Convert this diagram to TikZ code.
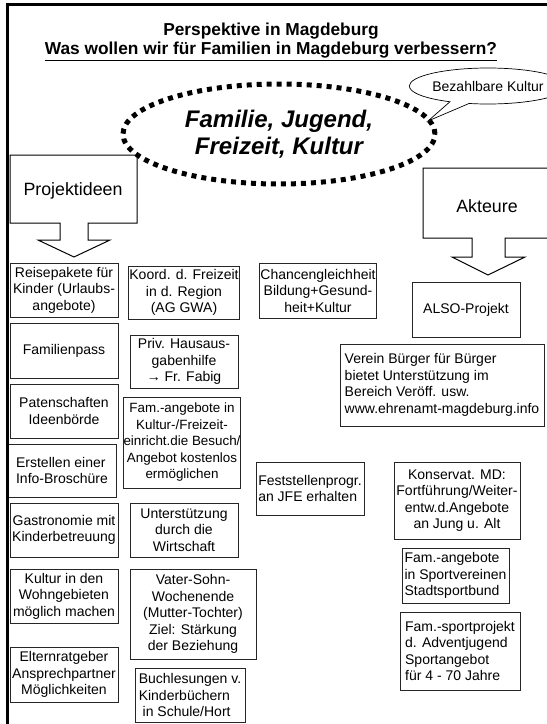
\documentclass[tikz,border=0pt]{standalone}
\usepackage{fontspec}
\setmainfont{Liberation Sans}
\usetikzlibrary{shapes.geometric,shapes.callouts}

\begin{document}
\begin{tikzpicture}[
  x=1pt, y=-1pt,
  font=\fontsize{14}{16.5}\selectfont,
  idee/.style ={rectangle, draw=black!85, line width=0.9pt, align=center, inner sep=0.5pt},
  links/.style={idee, align=left},
  pfeil/.style={draw=black, line width=1pt, fill=white, line join=miter},
]
\useasboundingbox (0,0) rectangle (547,724);
\clip (0,0) rectangle (547,724);
% title
\node[align=center, font=\fontsize{17.3}{19}\selectfont\bfseries] (titel) at (271,42)
  {Perspektive in Magdeburg\\\underline{Was wollen wir für Familien in Magdeburg verbessern?}};
% block arrows
\draw[pfeil] (10,155) -- (137,155) -- (137,223) -- (88,223) -- (88,240) -- (110,240) -- (74,257)
  -- (38,240) -- (60,240) -- (60,223) -- (10,223) -- cycle;
\node[font=\fontsize{17.8}{20}\selectfont] (ideen) at (73,191) {Projektideen};
\draw[pfeil] (423,168) -- (560,168) -- (560,238) -- (505,238) -- (505,257) -- (525,257) -- (488,275)
  -- (452,257) -- (472,257) -- (472,238) -- (423,238) -- cycle;
\node[font=\fontsize{17.8}{20}\selectfont] (akteure) at (487,206) {Akteure};
% theme
\node[ellipse, draw, line width=5pt, dash pattern=on 5pt off 5pt, minimum width=312, minimum height=100, inner sep=0,
      align=center, font=\fontsize{24}{27}\selectfont\bfseries\itshape] (thema) at (279,134)
  {Familie, Jugend,\\Freizeit, Kultur};
\node[ellipse callout, draw, line width=0.7pt, fill=white, minimum width=140, minimum height=36, inner sep=0,
      callout absolute pointer={(428,121)}] (bezahlt) at (488,86) {Bezahlbare Kultur};
% ideas, left column
\node[idee, minimum width=108, minimum height=54] (reise)  at (64,290)   {Reisepakete für\\Kinder (Urlaubs-\\angebote)};
\node[idee, minimum width=108, minimum height=55] (pass)   at (64,350.5) {Familienpass};
\node[idee, minimum width=108, minimum height=54] (paten)  at (64,411)   {Patenschaften\\Ideenbörde};
\node[links, minimum width=108, minimum height=53] (info)  at (62,470.5) {Erstellen einer\\Info-Broschüre};
\node[idee, minimum width=108, minimum height=54] (gastro) at (64,530)   {Gastronomie mit\\Kinderbetreuung};
\node[idee, minimum width=108, minimum height=54] (wohn)   at (64,596)   {Kultur in den\\Wohngebieten\\möglich machen};
\node[idee, minimum width=108, minimum height=55] (eltern) at (64,674.5) {Elternratgeber\\Ansprechpartner\\Möglichkeiten};
% ideas, middle column
\node[idee, minimum width=108, minimum height=53] (koord)   at (184,292.5) {Koord. d. Freizeit\\in d. Region\\(AG GWA)};
\node[idee, minimum width=108, minimum height=53] (haus)    at (184,361.5) {Priv. Hausaus-\\gabenhilfe\\→ Fr. Fabig};
\node[idee, minimum width=114, minimum height=91, inner sep=0pt, font=\fontsize{13.4}{16.5}\selectfont] (kultfrei) at (182,442.5)
  {Fam.-angebote in\\Kultur-/Freizeit-\\einricht.die Besuch/\\Angebot kostenlos\\ermöglichen};
\node[idee, minimum width=108, minimum height=54] (wirtsch) at (184,530)   {Unterstützung\\durch die\\Wirtschaft};
\node[idee, minimum width=126, minimum height=90] (vater)   at (193,614)   {Vater-Sohn-\\Wochenende\\(Mutter-Tochter)\\Ziel: Stärkung\\der Beziehung};
\node[links, minimum width=110, minimum height=54] (buch)   at (190,695)   {Buchlesungen v.\\Kinderbüchern\\\ in Schule/Hort};
% ideas, third column
\node[idee, minimum width=116, minimum height=55] (chance) at (318,290.5) {Chancengleichheit\\Bildung+Gesund-\\heit+Kultur};
\node[links, minimum width=108, minimum height=53] (fest)  at (310,488.5) {Feststellenprogr.\\an JFE erhalten};
% actors
\node[idee, minimum width=108, minimum height=55] (also)     at (466,309.5) {ALSO-Projekt};
\node[links, minimum width=204, minimum height=82] (verein)  at (442,385)
  {Verein Bürger für Bürger\\bietet Unterstützung im\\Bereich Veröff. usw.\\www.ehrenamt-magdeburg.info};
\node[idee, minimum width=126, minimum height=77] (konserv)  at (457,500.5) {Konservat. MD:\\Fortführung/Weiter-\\entw.d.Angebote\\an Jung u. Alt};
\node[links, minimum width=107, minimum height=55] (sport)   at (455.5,575.5) {Fam.-angebote\\in Sportvereinen\\Stadtsportbund};
\node[links, minimum width=120, minimum height=78] (advent)  at (460,651) {Fam.-sportprojekt\\d. Adventjugend\\Sportangebot\\für 4 - 70 Jahre};
% frame
\draw[line width=3pt] (7,724) -- (7,4) -- (547,4);
\end{tikzpicture}
\end{document}
